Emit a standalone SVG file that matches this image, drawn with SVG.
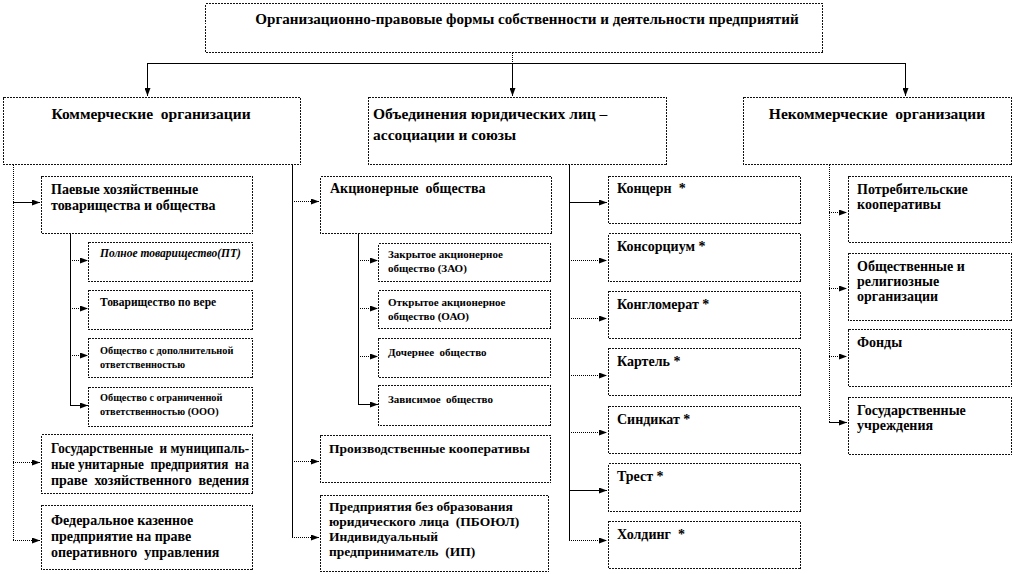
<svg xmlns="http://www.w3.org/2000/svg" width="1014" height="574" viewBox="0 0 1014 574">
<style>
.box{fill:#fff;stroke:#111;stroke-width:1;stroke-dasharray:2 1;shape-rendering:crispEdges}
text{font-family:"Liberation Serif","Times New Roman",serif;font-weight:bold;font-size:14px;fill:#000}
.tt{font-size:15.1px}
.h{font-size:15.5px}
.m{font-size:13.5px}
.s{font-size:11.5px}
.ss{font-size:11px}
.xs{font-size:10.3px}
.c{text-anchor:middle}
.ln{fill:none;stroke:#000;stroke-width:1;shape-rendering:crispEdges}
.dt{fill:none;stroke:#000;stroke-width:1;stroke-dasharray:1 1;shape-rendering:crispEdges}
</style>
<defs>
<marker id="ah" markerWidth="8" markerHeight="6" refX="8" refY="3" orient="auto" markerUnits="userSpaceOnUse">
<path d="M0,0 L8,3 L0,6 z" fill="#000"/>
</marker>
</defs>
<rect width="1014" height="574" fill="#fff"/>

<g id="connectors">
<line class="dt" x1="512.5" y1="53" x2="512.5" y2="63"/>
<line class="ln" x1="147" y1="63.5" x2="906" y2="63.5"/>
<line class="ln" x1="147.5" y1="63" x2="147.5" y2="96" marker-end="url(#ah)"/>
<line class="ln" x1="512.5" y1="63" x2="512.5" y2="96" marker-end="url(#ah)"/>
<line class="ln" x1="905.5" y1="63" x2="905.5" y2="96" marker-end="url(#ah)"/>

<line class="dt" x1="13.5" y1="165" x2="13.5" y2="540"/>
<line class="ln" x1="13" y1="202.5" x2="40" y2="202.5" marker-end="url(#ah)"/>
<line class="dt" x1="13" y1="462.5" x2="40" y2="462.5" marker-end="url(#ah)"/>
<line class="dt" x1="13" y1="540.5" x2="40" y2="540.5" marker-end="url(#ah)"/>

<line class="ln" x1="70.5" y1="233" x2="70.5" y2="405"/>
<line class="dt" x1="70" y1="260.5" x2="88" y2="260.5" marker-end="url(#ah)"/>
<line class="dt" x1="70" y1="308.5" x2="88" y2="308.5" marker-end="url(#ah)"/>
<line class="dt" x1="70" y1="355.5" x2="88" y2="355.5" marker-end="url(#ah)"/>
<line class="ln" x1="70" y1="405.5" x2="88" y2="405.5" marker-end="url(#ah)"/>

<line class="ln" x1="292.5" y1="165" x2="292.5" y2="538"/>
<line class="dt" x1="292" y1="201.5" x2="319" y2="201.5" marker-end="url(#ah)"/>
<line class="dt" x1="292" y1="461.5" x2="319" y2="461.5" marker-end="url(#ah)"/>
<line class="dt" x1="292" y1="537.5" x2="319" y2="537.5" marker-end="url(#ah)"/>

<line class="ln" x1="358.5" y1="233" x2="358.5" y2="404"/>
<line class="dt" x1="358" y1="260.5" x2="378" y2="260.5" marker-end="url(#ah)"/>
<line class="dt" x1="358" y1="308.5" x2="378" y2="308.5" marker-end="url(#ah)"/>
<line class="dt" x1="358" y1="356.5" x2="378" y2="356.5" marker-end="url(#ah)"/>
<line class="ln" x1="358" y1="404.5" x2="378" y2="404.5" marker-end="url(#ah)"/>

<line class="ln" x1="569.5" y1="165" x2="569.5" y2="541"/>
<line class="ln" x1="569" y1="202.5" x2="607" y2="202.5" marker-end="url(#ah)"/>
<line class="dt" x1="569" y1="260.5" x2="607" y2="260.5" marker-end="url(#ah)"/>
<line class="dt" x1="569" y1="318.5" x2="607" y2="318.5" marker-end="url(#ah)"/>
<line class="dt" x1="569" y1="375.5" x2="607" y2="375.5" marker-end="url(#ah)"/>
<line class="dt" x1="569" y1="432.5" x2="607" y2="432.5" marker-end="url(#ah)"/>
<line class="ln" x1="569" y1="490.5" x2="607" y2="490.5" marker-end="url(#ah)"/>
<line class="dt" x1="569" y1="540.5" x2="607" y2="540.5" marker-end="url(#ah)"/>

<line class="dt" x1="829.5" y1="165" x2="829.5" y2="423"/>
<line class="dt" x1="829" y1="212.5" x2="847" y2="212.5" marker-end="url(#ah)"/>
<line class="dt" x1="829" y1="288.5" x2="847" y2="288.5" marker-end="url(#ah)"/>
<line class="dt" x1="829" y1="356.5" x2="847" y2="356.5" marker-end="url(#ah)"/>
<line class="ln" x1="829" y1="422.5" x2="847" y2="422.5" marker-end="url(#ah)"/>
</g>

<g id="top"><rect class="box" x="205.5" y="3.5" width="617" height="49"/>
<text class="c tt" x="527" y="24">Организационно-правовые формы собственности и деятельности предприятий</text></g>

<g id="commercial"><rect class="box" x="3.5" y="97.5" width="297" height="67"/>
<text class="c h" x="151" y="119">Коммерческие&#160;&#160;организации</text></g>
<g id="associations"><rect class="box" x="368.5" y="97.5" width="298" height="67"/>
<text class="h" x="373" y="119">Объединения юридических лиц –</text>
<text class="h" x="373" y="140">ассоциации и союзы</text></g>
<g id="noncommercial"><rect class="box" x="743.5" y="97.5" width="268" height="67"/>
<text class="c h" x="877" y="119">Некоммерческие&#160;&#160;организации</text></g>

<g id="paevye"><rect class="box" x="41.5" y="176.5" width="211" height="57"/>
<text x="51" y="194">Паевые хозяйственные</text>
<text x="51" y="210">товарищества и общества</text></g>
<g id="pt"><rect class="box" x="88.5" y="242.5" width="164" height="39"/>
<text class="s" x="100" y="257" font-style="italic">Полное товарищество(ПТ)</text></g>
<g id="tv"><rect class="box" x="88.5" y="290.5" width="164" height="39"/>
<text class="s" x="100" y="306">Товарищество по вере</text></g>
<g id="odo"><rect class="box" x="88.5" y="338.5" width="164" height="39"/>
<text class="xs" x="100" y="354">Общество с дополнительной</text>
<text class="xs" x="100" y="368">ответственностью</text></g>
<g id="ooo"><rect class="box" x="88.5" y="387.5" width="164" height="39"/>
<text class="xs" x="100" y="401">Общество с ограниченной</text>
<text class="xs" x="100" y="415">ответственностью (ООО)</text></g>
<g id="gmup"><rect class="box" x="41.5" y="434.5" width="211" height="59"/>
<text x="51" y="453" textLength="198" lengthAdjust="spacingAndGlyphs">Государственные&#160;&#160;и муниципаль-</text>
<text x="51" y="469" textLength="198" lengthAdjust="spacingAndGlyphs">ные унитарные&#160;&#160;предприятия&#160;&#160;на</text>
<text x="51" y="485" textLength="198" lengthAdjust="spacing">праве&#160;&#160;хозяйственного&#160;&#160;ведения</text></g>
<g id="fkp"><rect class="box" x="41.5" y="505.5" width="211" height="64"/>
<text x="51" y="525">Федеральное казенное</text>
<text x="51" y="541">предприятие на праве</text>
<text x="51" y="557">оперативного&#160;&#160;управления</text></g>

<g id="ao"><rect class="box" x="320.5" y="176.5" width="231" height="57"/>
<text x="330" y="193">Акционерные&#160;&#160;общества</text></g>
<g id="zao"><rect class="box" x="378.5" y="243.5" width="172" height="38"/>
<text class="ss" x="388" y="258">Закрытое акционерное</text>
<text class="ss" x="388" y="272">общество (ЗАО)</text></g>
<g id="oao"><rect class="box" x="378.5" y="290.5" width="172" height="38"/>
<text class="ss" x="388" y="306">Открытое акционерное</text>
<text class="ss" x="388" y="320">общество (ОАО)</text></g>
<g id="doch"><rect class="box" x="378.5" y="338.5" width="172" height="39"/>
<text class="ss" x="388" y="356">Дочернее&#160;&#160;общество</text></g>
<g id="zav"><rect class="box" x="378.5" y="385.5" width="172" height="40"/>
<text class="ss" x="388" y="403">Зависимое&#160;&#160;общество</text></g>
<g id="pk"><rect class="box" x="320.5" y="435.5" width="230" height="47"/>
<text class="m" x="329" y="453">Производственные кооперативы</text></g>
<g id="pboyul"><rect class="box" x="320.5" y="495.5" width="228" height="76"/>
<text class="m" x="329" y="511">Предприятия без образования</text>
<text class="m" x="329" y="526">юридического лица&#160;&#160;(ПБОЮЛ)</text>
<text class="m" x="329" y="541">Индивидуальный</text>
<text class="m" x="329" y="556">предприниматель&#160;&#160;(ИП)</text></g>

<g id="koncern"><rect class="box" x="608.5" y="176.5" width="192" height="47"/>
<text x="617" y="193">Концерн&#160;&#160;*</text></g>
<g id="konsorcium"><rect class="box" x="608.5" y="233.5" width="192" height="48"/>
<text x="617" y="251">Консорциум *</text></g>
<g id="konglomerat"><rect class="box" x="608.5" y="291.5" width="192" height="47"/>
<text x="617" y="309">Конгломерат *</text></g>
<g id="kartel"><rect class="box" x="608.5" y="348.5" width="192" height="47"/>
<text x="617" y="366">Картель *</text></g>
<g id="sindikat"><rect class="box" x="608.5" y="406.5" width="192" height="47"/>
<text x="617" y="424">Синдикат *</text></g>
<g id="trest"><rect class="box" x="608.5" y="463.5" width="192" height="48"/>
<text x="617" y="481">Трест *</text></g>
<g id="holding"><rect class="box" x="608.5" y="521.5" width="192" height="47"/>
<text x="617" y="539">Холдинг&#160;&#160;*</text></g>

<g id="potreb"><rect class="box" x="848.5" y="176.5" width="163" height="66"/>
<text x="857" y="194">Потребительские</text>
<text x="857" y="209">кооперативы</text></g>
<g id="obsch"><rect class="box" x="848.5" y="253.5" width="163" height="67"/>
<text x="857" y="271">Общественные и</text>
<text x="857" y="286">религиозные</text>
<text x="857" y="301">организации</text></g>
<g id="fondy"><rect class="box" x="848.5" y="329.5" width="163" height="57"/>
<text x="857" y="347">Фонды</text></g>
<g id="gosuchr"><rect class="box" x="848.5" y="397.5" width="163" height="57"/>
<text x="857" y="415">Государственные</text>
<text x="857" y="430">учреждения</text></g>
</svg>
